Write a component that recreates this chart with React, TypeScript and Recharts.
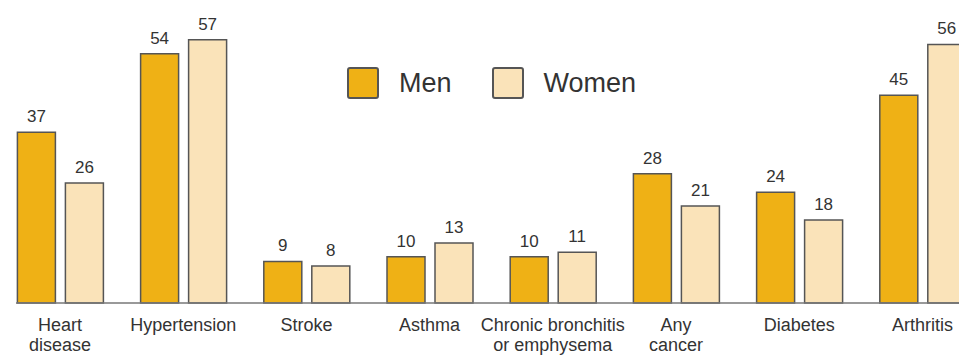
import React from "react";
import { Bar, BarChart, LabelList, Legend, XAxis, YAxis } from "recharts";

// Percent of adults with each chronic condition
const conditions = [
  "Heart disease",
  "Hypertension",
  "Stroke",
  "Asthma",
  "Chronic bronchitis or emphysema",
  "Any cancer",
  "Diabetes",
  "Arthritis",
];
const conditionLines: string[][] = [
  ["Heart", "disease"],
  ["Hypertension"],
  ["Stroke"],
  ["Asthma"],
  ["Chronic bronchitis", "or emphysema"],
  ["Any", "cancer"],
  ["Diabetes"],
  ["Arthritis"],
];
const men = [37, 54, 9, 10, 10, 28, 24, 45];
const women = [26, 57, 8, 13, 11, 21, 18, 56];

const MEN_COLOR = "#EFB115";
const WOMEN_COLOR = "#FAE3B9";
const OUTLINE = "#555555";
const TEXT = "#333333";
const FONT = "Liberation Sans, Arial, sans-serif";

const data = conditions.map((name, i) => ({
  name,
  men: men[i],
  women: women[i],
}));

function CategoryTick(props: any) {
  const { x, y, index } = props;
  const lines = conditionLines[index] ?? [props.payload.value];
  return (
    <text x={x} y={y} textAnchor="middle" fill={TEXT} fontSize={18} fontFamily={FONT}>
      {lines.map((line, i) => (
        <tspan key={line} x={x} y={y + 28 + i * 20}>
          {line}
        </tspan>
      ))}
    </text>
  );
}

function LegendBoxes() {
  const items = [
    { label: "Men", color: MEN_COLOR },
    { label: "Women", color: WOMEN_COLOR },
  ];
  return (
    <div style={{ display: "flex", alignItems: "center" }}>
      {items.map((item, i) => (
        <div
          key={item.label}
          style={{ display: "flex", alignItems: "center", marginRight: i === 0 ? 40 : 0 }}
        >
          <span
            style={{
              width: 28,
              height: 28,
              background: item.color,
              border: `2px solid ${OUTLINE}`,
              borderRadius: 3,
              marginRight: 20,
            }}
          />
          <span style={{ fontSize: 27, color: TEXT, fontFamily: FONT, lineHeight: "30px" }}>
            {item.label}
          </span>
        </div>
      ))}
    </div>
  );
}

export default function App() {
  return (
    <>
      <style>{"body { margin: 0; }"}</style>
      <div
        style={{
          width: 959,
          height: 355,
          overflow: "hidden",
          background: "#fff",
          position: "relative",
        }}
      >
        <BarChart
          width={984}
          height={355}
          data={data}
          margin={{ top: 26, right: 0, left: 16, bottom: 0 }}
          barGap={10}
          barSize={38}
        >
          <XAxis
            dataKey="name"
            interval={0}
            height={52}
            padding={{ left: -17.6, right: 0 }}
            tickLine={false}
            tickSize={0}
            tickMargin={0}
            axisLine={{ stroke: "#777", strokeWidth: 1.5 }}
            tick={<CategoryTick />}
          />
          <YAxis hide domain={[0, 60]} />
          <Legend
            layout="horizontal"
            verticalAlign="middle"
            align="center"
            content={() => <LegendBoxes />}
            wrapperStyle={{ position: "absolute", left: 347, top: 67, width: "auto" }}
          />
          <Bar
            dataKey="men"
            name="Men"
            fill={MEN_COLOR}
            stroke={OUTLINE}
            strokeWidth={1.5}
            isAnimationActive={false}
          >
            <LabelList
              dataKey="men"
              position="top"
              offset={10}
              fill={TEXT}
              fontSize={17}
              fontFamily={FONT}
            />
          </Bar>
          <Bar
            dataKey="women"
            name="Women"
            fill={WOMEN_COLOR}
            stroke={OUTLINE}
            strokeWidth={1.5}
            isAnimationActive={false}
          >
            <LabelList
              dataKey="women"
              position="top"
              offset={10}
              fill={TEXT}
              fontSize={17}
              fontFamily={FONT}
            />
          </Bar>
        </BarChart>
      </div>
    </>
  );
}
